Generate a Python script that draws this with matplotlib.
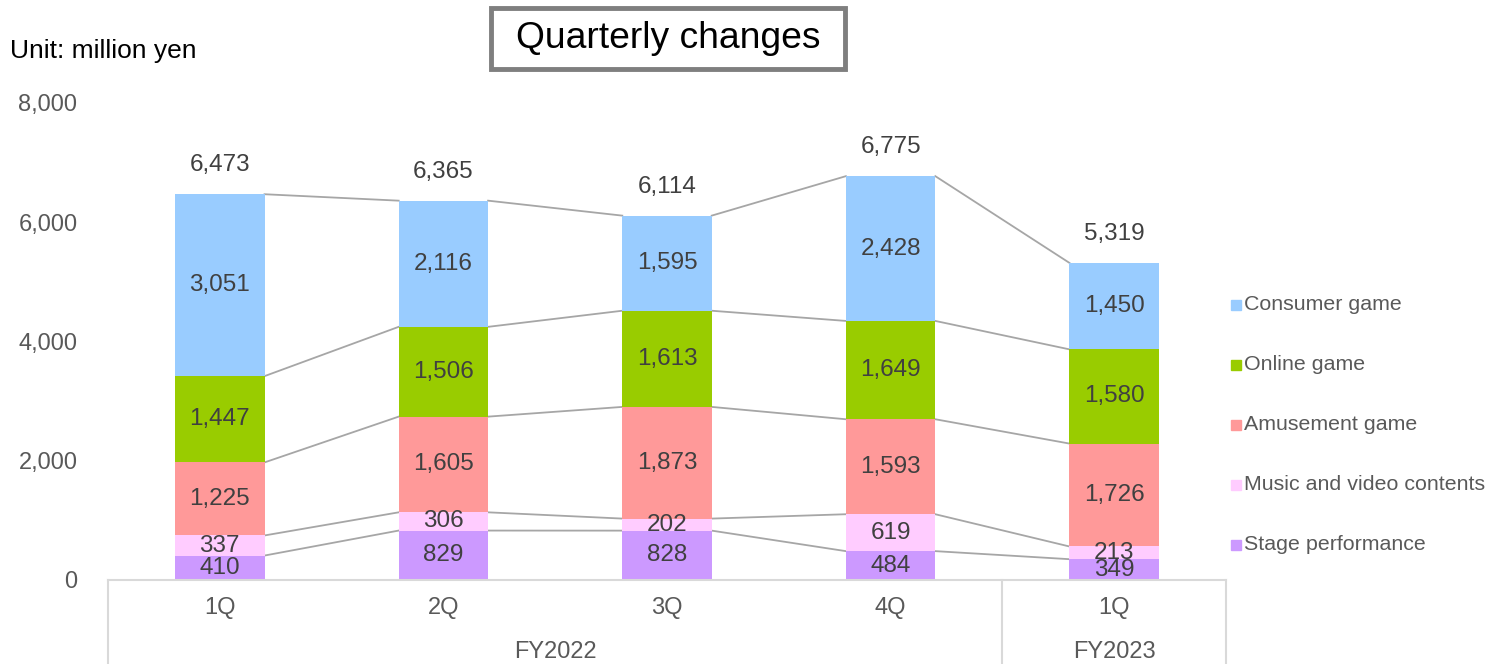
import matplotlib
matplotlib.use('Agg')
import matplotlib.pyplot as plt
from matplotlib.patches import Rectangle
from matplotlib.lines import Line2D

plt.rcParams['font.family'] = ['Liberation Sans', 'DejaVu Sans']

quarters = ['1Q', '2Q', '3Q', '4Q', '1Q']
years = ['FY2022', 'FY2023']
year_spans = [(0, 3), (4, 4)]

segments = ['Stage performance', 'Music and video contents', 'Amusement game',
            'Online game', 'Consumer game']
stage = [410, 829, 828, 484, 349]
music = [337, 306, 202, 619, 213]
amusement = [1225, 1605, 1873, 1593, 1726]
online = [1447, 1506, 1613, 1649, 1580]
consumer = [3051, 2116, 1595, 2428, 1450]
totals = [6473, 6365, 6114, 6775, 5319]

colors = ['#CC99FF', '#FFCCFF', '#FF9999', '#99CC00', '#99CCFF']
series = [stage, music, amusement, online, consumer]

W, H = 1498, 664
fig = plt.figure(figsize=(W / 100, H / 100), dpi=100)
ax = fig.add_axes([108 / W, 1 - 580 / H, (1226 - 108) / W, (580 - 103) / H])

x = list(range(len(quarters)))
bw = 0.4
bottoms = [0] * len(x)
tops = []
for vals, col in zip(series, colors):
    ax.bar(x, vals, bw, bottom=bottoms, color=col, zorder=2)
    for i, v in enumerate(vals):
        ax.text(i, bottoms[i] + v / 2, f'{v:,}', ha='center', va='center',
                fontsize=17.5, color='#404040', zorder=3)
    bottoms = [b + v for b, v in zip(bottoms, vals)]
    tops.append(list(bottoms))

# connector lines between bars
for lvl in tops:
    for i in range(len(x) - 1):
        ax.plot([i + bw / 2, i + 1 - bw / 2], [lvl[i], lvl[i + 1]],
                color='#A6A6A6', lw=1.3, zorder=1)

for i, t in enumerate(totals):
    ax.annotate(f'{t:,}', (i, bottoms[i]), xytext=(0, 13), textcoords='offset points',
                ha='center', va='bottom', fontsize=17.5, color='#404040')

ax.set_xlim(-0.5, 4.5)
ax.set_ylim(0, 8000)
ax.set_yticks([0, 2000, 4000, 6000, 8000])
ax.set_yticklabels(['0', '2,000', '4,000', '6,000', '8,000'])
ax.tick_params(axis='y', length=0, pad=22, labelsize=17, labelcolor='#595959')
ax.set_xticks([])
for s in ['top', 'right', 'left']:
    ax.spines[s].set_visible(False)
ax.spines['bottom'].set_color('#D9D9D9')
ax.spines['bottom'].set_linewidth(1.5)

# category axis (quarters and fiscal years)
tr = ax.get_xaxis_transform()
for xv in [-0.5, 3.5, 4.5]:
    ax.add_line(Line2D([xv, xv], [0, -0.25], transform=tr, color='#D9D9D9',
                       lw=1.5, clip_on=False))
for i, q in enumerate(quarters):
    ax.text(i, -28 / 477, q, transform=tr, ha='center', va='center',
            fontsize=17, color='#595959')
for yr, (a, b) in zip(years, year_spans):
    ax.text((a + b) / 2, -72 / 477, yr, transform=tr,
            ha='center', va='center', fontsize=17, color='#595959')

# legend
for k, (name, col) in enumerate(zip(segments[::-1], colors[::-1])):
    yc = 305 + 60 * k
    fig.patches.append(Rectangle((1231 / W, 1 - (yc + 5) / H), 10 / W, 10 / H,
                                 transform=fig.transFigure, color=col))
    fig.text(1244 / W, 1 - yc / H, name, ha='left', va='center',
             fontsize=15.4, color='#595959')

# title box
fig.patches.append(Rectangle((491 / W, 1 - 69 / H), 354 / W, 61 / H,
                             transform=fig.transFigure, facecolor='white',
                             edgecolor='#7F7F7F', lw=3.5))
fig.text(668 / W, 1 - 39 / H, 'Quarterly changes', ha='center', va='center',
         fontsize=26.8, color='black')
fig.text(10 / W, 1 - 51 / H, 'Unit: million yen', ha='left', va='center',
         fontsize=19, color='black')

fig.savefig('out.png', dpi=100)
